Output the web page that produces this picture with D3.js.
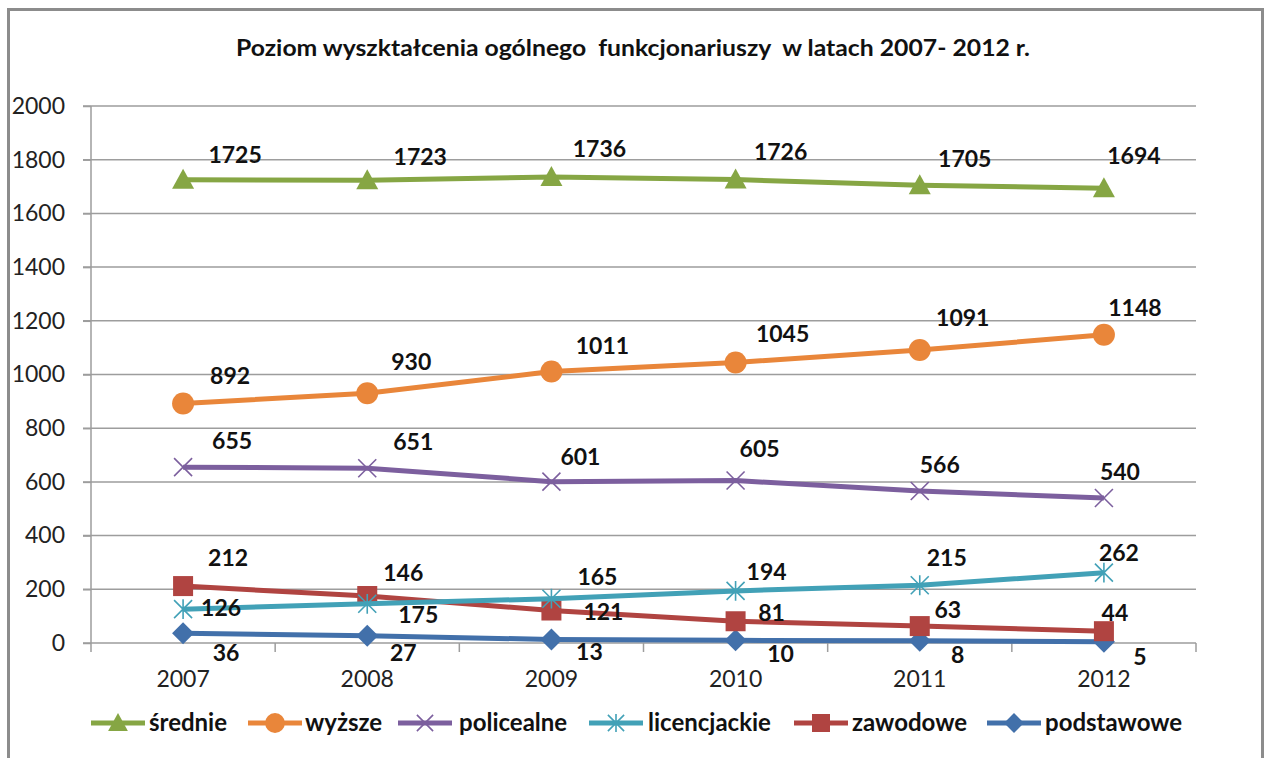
<!DOCTYPE html>
<html>
<head>
<meta charset="utf-8">
<script src="https://cdn.jsdelivr.net/npm/d3@7/dist/d3.min.js"></script>
<style>
  html, body { margin: 0; padding: 0; background: #fff; }
  svg { display: block; }
  text { font-family: Lato, "Open Sans", sans-serif; }
</style>
</head>
<body>
<svg id="chart" width="1265" height="758"></svg>
<script>
// Education level of officers, 2007–2012
const years = ["2007", "2008", "2009", "2010", "2011", "2012"];
const yTicks = [0, 200, 400, 600, 800, 1000, 1200, 1400, 1600, 1800, 2000];

const srednie      = [1725, 1723, 1736, 1726, 1705, 1694];
const wyzsze       = [892, 930, 1011, 1045, 1091, 1148];
const policealne   = [655, 651, 601, 605, 566, 540];
const licencjackie = [126, 146, 165, 194, 215, 262];
const zawodowe     = [212, 175, 121, 81, 63, 44];
const podstawowe   = [36, 27, 13, 10, 8, 5];

const seriesNames  = ["średnie", "wyższe", "policealne", "licencjackie", "zawodowe", "podstawowe"];
const seriesColors = ["#86a644", "#e9863a", "#7c5f9e", "#42a1b7", "#b04441", "#4270aa"];
const seriesShapes = ["triangle", "circle", "x", "asterisk", "square", "diamond"];

// label placement (dx, dy from the point, in px)
const labelOffsets = [
  [[52,-25],[53,-24],[48,-28],[45,-28],[45,-26],[30,-32]],
  [[47,-28],[44,-32],[51,-26],[47,-29],[43,-32],[31,-27]],
  [[49,-26],[46,-26],[29,-25],[24,-32],[20,-26],[16,-26]],
  [[38,-1],[36,-31],[46,-22],[31,-19],[27,-28],[15,-20]],
  [[45,-28],[51,19],[52,1],[36,-9],[28,-16],[11,-18]],
  [[43,19],[36,17],[38,12],[45,13],[38,14],[36,15]]
];

const seriesData = [srednie, wyzsze, policealne, licencjackie, zawodowe, podstawowe];

const svg = d3.select("#chart");

// outer frame
svg.append("rect")
  .attr("x", 8.5).attr("y", 9.5)
  .attr("width", 1254).attr("height", 760)
  .attr("fill", "#fff").attr("stroke", "#8c8c8c").attr("stroke-width", 3);

// title
svg.append("text")
  .attr("x", 633).attr("y", 56)
  .attr("text-anchor", "middle")
  .attr("font-size", 23).attr("font-weight", "bold").attr("fill", "#111")
  .attr("textLength", 794).attr("lengthAdjust", "spacingAndGlyphs")
  .attr("xml:space", "preserve")
  .text("Poziom wyszktałcenia ogólnego  funkcjonariuszy  w latach 2007- 2012 r.");

const plot = { left: 91, right: 1196, top: 106, bottom: 643 };

const x = d3.scaleBand().domain(years).range([plot.left, plot.right]);
const y = d3.scaleLinear().domain([0, 2000]).range([plot.bottom, plot.top]);

// horizontal gridlines
svg.append("g")
  .selectAll("line")
  .data(yTicks.filter(t => t > 0))
  .join("line")
  .attr("x1", plot.left - 8).attr("x2", plot.right)
  .attr("y1", d => y(d)).attr("y2", d => y(d))
  .attr("stroke", "#9d9d9d").attr("stroke-width", 1.5);

// y axis
const yAxis = svg.append("g")
  .attr("transform", `translate(${plot.left},0)`)
  .call(d3.axisLeft(y).tickValues(yTicks).tickSize(8).tickPadding(16).tickFormat(d3.format("d")));
yAxis.select(".domain").attr("stroke", "#9d9d9d").attr("stroke-width", 1.5)
  .attr("d", `M0,${plot.top}V${plot.bottom + 9}`);
yAxis.selectAll(".tick line").attr("stroke", "#9d9d9d").attr("stroke-width", 1.5);
yAxis.selectAll(".tick text").attr("font-size", 23).attr("fill", "#222")
  .attr("font-family", "Lato, sans-serif").attr("x", -26).attr("text-anchor", "end");

// x axis baseline with ticks between categories
const xg = svg.append("g");
xg.append("line")
  .attr("x1", plot.left - 8).attr("x2", plot.right)
  .attr("y1", plot.bottom).attr("y2", plot.bottom)
  .attr("stroke", "#9d9d9d").attr("stroke-width", 1.5);
const boundaries = years.map(d => x(d)).concat([x(years[years.length - 1]) + x.bandwidth()]);
xg.selectAll("line.tk")
  .data(boundaries.slice(1))
  .join("line").attr("class", "tk")
  .attr("x1", d => d).attr("x2", d => d)
  .attr("y1", plot.bottom).attr("y2", plot.bottom + 9)
  .attr("stroke", "#9d9d9d").attr("stroke-width", 1.5);
xg.selectAll("text")
  .data(years)
  .join("text")
  .attr("x", d => x(d) + x.bandwidth() / 2)
  .attr("y", 687)
  .attr("text-anchor", "middle")
  .attr("font-size", 23).attr("fill", "#222")
  .text(d => d);

// marker drawing
function drawMarker(g, shape, color, cx, cy, s) {
  const k = s || 1;
  if (shape === "triangle") {
    const w = 11 * k, h = 20 * k;
    g.append("path").attr("d", `M${cx},${cy - h * 0.55}L${cx + w},${cy + h * 0.45}L${cx - w},${cy + h * 0.45}Z`)
      .attr("fill", color);
  } else if (shape === "circle") {
    g.append("circle").attr("cx", cx).attr("cy", cy).attr("r", 11 * k).attr("fill", color);
  } else if (shape === "square") {
    const a = 10 * k;
    g.append("rect").attr("x", cx - a).attr("y", cy - a).attr("width", 2 * a).attr("height", 2 * a).attr("fill", color);
  } else if (shape === "diamond") {
    const a = 11 * k;
    g.append("path").attr("d", `M${cx},${cy - a}L${cx + a},${cy}L${cx},${cy + a}L${cx - a},${cy}Z`).attr("fill", color);
  } else if (shape === "x") {
    const a = 9 * k;
    g.append("path").attr("d", `M${cx - a},${cy - a}L${cx + a},${cy + a}M${cx - a},${cy + a}L${cx + a},${cy - a}`)
      .attr("stroke", color).attr("stroke-width", 1.6).attr("fill", "none");
  } else if (shape === "asterisk") {
    const a = 9 * k;
    g.append("path").attr("d", `M${cx - a},${cy - a}L${cx + a},${cy + a}M${cx - a},${cy + a}L${cx + a},${cy - a}M${cx},${cy - a * 1.1}L${cx},${cy + a * 1.1}`)
      .attr("stroke", color).attr("stroke-width", 1.6).attr("fill", "none");
  }
}

const cxOf = i => x(years[i]) + x.bandwidth() / 2;
const line = d3.line().x((d, i) => cxOf(i)).y(d => y(d));

// series lines and markers, last legend entry drawn first
const order = [5, 4, 3, 2, 1, 0];
order.forEach(si => {
  const g = svg.append("g");
  g.append("path")
    .datum(seriesData[si])
    .attr("d", line)
    .attr("fill", "none")
    .attr("stroke", seriesColors[si])
    .attr("stroke-width", 5)
    .attr("stroke-linejoin", "round");
  seriesData[si].forEach((v, i) => drawMarker(g, seriesShapes[si], seriesColors[si], cxOf(i), y(v)));
});

// data labels
seriesData.forEach((vals, si) => {
  svg.append("g")
    .selectAll("text")
    .data(vals)
    .join("text")
    .attr("x", (d, i) => cxOf(i) + labelOffsets[si][i][0])
    .attr("y", (d, i) => y(d) + labelOffsets[si][i][1])
    .attr("dy", "0.36em")
    .attr("text-anchor", "middle")
    .attr("font-size", 23).attr("font-weight", "bold").attr("fill", "#111")
    .text(d => d);
});

// legend
const legendItems = [
  { lx: 91,  tx: 149 },
  { lx: 248, tx: 305 },
  { lx: 398, tx: 459 },
  { lx: 589, tx: 648 },
  { lx: 794, tx: 852 },
  { lx: 987, tx: 1045 }
];
const legendY = 723;
const lg = svg.append("g");
seriesNames.forEach((name, si) => {
  const it = legendItems[si];
  const g = lg.append("g");
  g.append("line")
    .attr("x1", it.lx).attr("x2", it.lx + 54)
    .attr("y1", legendY).attr("y2", legendY)
    .attr("stroke", seriesColors[si]).attr("stroke-width", 5);
  drawMarker(g, seriesShapes[si], seriesColors[si], it.lx + 27, legendY, 0.9);
  g.append("text")
    .attr("x", it.tx).attr("y", legendY).attr("dy", "0.34em")
    .attr("font-size", 24).attr("font-weight", "bold").attr("fill", "#111")
    .text(name);
});
</script>
</body>
</html>
